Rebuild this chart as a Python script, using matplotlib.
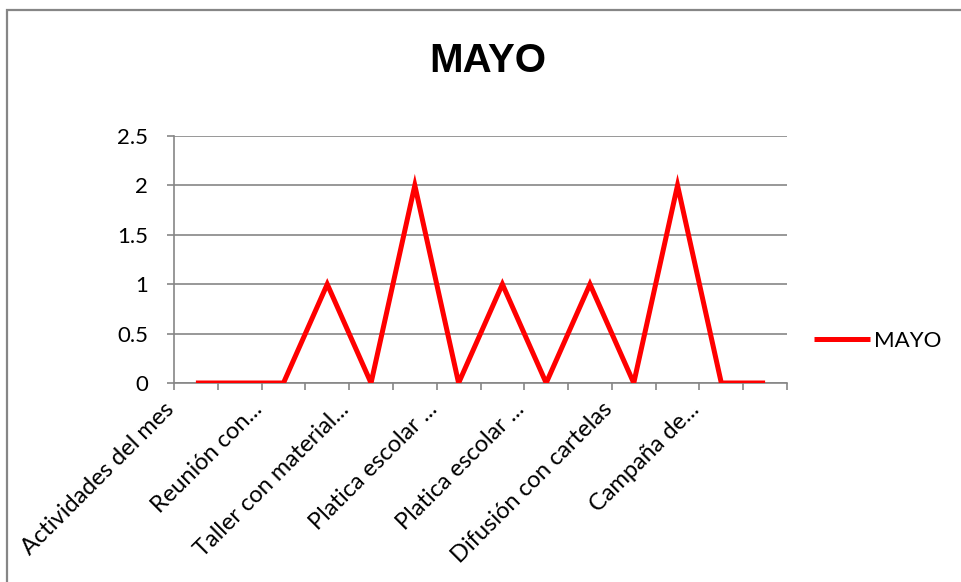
import matplotlib
matplotlib.use("Agg")
import matplotlib.pyplot as plt
import matplotlib.transforms as mtransforms
from matplotlib.patches import Rectangle
import numpy as np

# data
categorias = ["Actividades del mes", "", "Reunión con...", "", "Taller con material...", "",
              "Platica escolar ...", "", "Platica escolar ...", "", "Difusión con cartelas", "",
              "Campaña de...", ""]
valores_mayo = [0, 0, 0, 1, 0, 2, 0, 1, 0, 1, 0, 2, 0, 0]
y_ticks = [0, 0.5, 1, 1.5, 2, 2.5]
y_labels = ["0", "0.5", "1", "1.5", "2", "2.5"]

gris = "#868686"
plt.rcParams['font.family'] = ['Lato', 'DejaVu Sans']

fig = plt.figure(figsize=(9.61, 5.82), dpi=100)
ax = fig.add_axes([174 / 961, 1 - 383 / 582, 613 / 961, 247 / 582])

x = np.arange(len(valores_mayo))
ax.plot(x, valores_mayo, color="#FF0000", lw=3.6, label="MAYO",
        solid_joinstyle="miter", solid_capstyle="butt", zorder=3)

ax.set_xlim(-0.5, len(valores_mayo) - 0.5)
ax.set_ylim(0, 2.5)
ax.set_yticks(y_ticks)
ax.set_yticklabels(y_labels, fontsize=16)
ax.yaxis.grid(True, color=gris, lw=1.2)
ax.set_axisbelow(True)
ax.tick_params(axis="y", length=5, width=1.2, color=gris, pad=13.5)

# ticks between categories, labels on every other category
ax.set_xticks(np.arange(-0.5, len(valores_mayo)), minor=True)
ax.set_xticks(x[::2])
ax.set_xticklabels(categorias[::2], fontsize=17, rotation=45,
                   ha="right", va="center", rotation_mode="anchor")
ax.tick_params(axis="x", which="major", length=0, pad=0)
ax.tick_params(axis="x", which="minor", length=5, width=1.2, color=gris)
offset = mtransforms.ScaledTranslation(-25 / 100, -23 / 100, fig.dpi_scale_trans)
for lbl in ax.get_xticklabels():
    lbl.set_transform(lbl.get_transform() + offset)

for s in ["top", "right"]:
    ax.spines[s].set_visible(False)
for s in ["left", "bottom"]:
    ax.spines[s].set_color(gris)
    ax.spines[s].set_linewidth(1.2)

fig.text(488 / 961, 1 - 61 / 582, "MAYO", fontsize=29, fontweight="bold",
         family="Liberation Sans", ha="center", va="center")

ax.legend(loc="center left", bbox_to_anchor=(803 / 961, 1 - 341 / 582),
          bbox_transform=fig.transFigure, frameon=False, fontsize=16,
          handlelength=2.5, handletextpad=0.2, borderpad=0)

fig.patches.append(Rectangle((7 / 961, -0.1), 1.2, 1 - 10 / 582 + 0.1,
                             transform=fig.transFigure, fill=False,
                             edgecolor=gris, lw=1.6))

fig.savefig("out.png", dpi=100)
